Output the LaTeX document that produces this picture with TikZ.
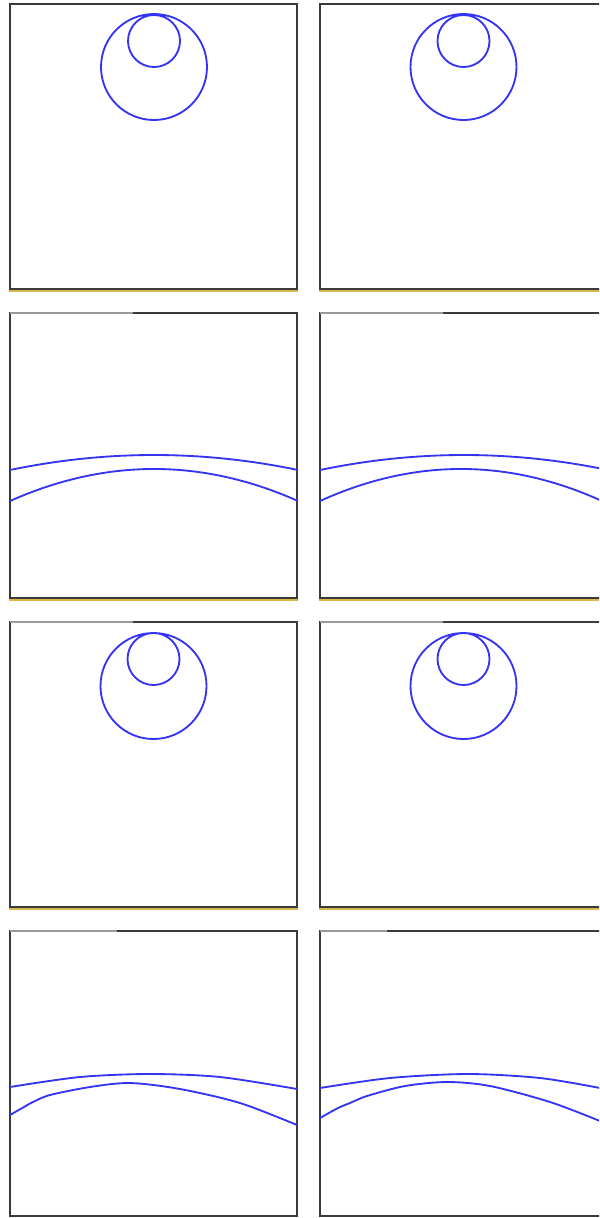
\documentclass[tikz,border=0pt]{standalone}
\usepackage{xcolor}
\usepackage{tikz}
\definecolor{cFrame}{HTML}{3A3A3A}
\definecolor{cFade}{HTML}{9A9A9A}
\definecolor{cFloor}{HTML}{D9B84A}
\definecolor{cRing}{HTML}{3434F2}
\tikzset{
  pane/.style  ={draw=cFrame, line width=1.3pt},
  fade/.style  ={draw=cFade, line width=1.3pt},
  pfloor/.style={draw=cFloor, line width=0.7pt},
  ring/.style  ={draw=cRing, line width=1.05pt},
}

\begin{document}
\begin{tikzpicture}[x=0.02cm,y=-0.02cm]
  \path[use as bounding box, clip] (0,0) rectangle (599,1218);
  \fill[white] (0,0) rectangle (599,1218);

  % frames, left column and right column
  \draw[pane] (10,4) rectangle (297,289);     \draw[pane] (610,289) -- (320,289) -- (320,4) -- (610,4);
  \draw[pane] (10,313) rectangle (297,598);   \draw[pane] (610,598) -- (320,598) -- (320,313) -- (610,313);
  \draw[pane] (10,622) rectangle (297,907);   \draw[pane] (610,907) -- (320,907) -- (320,622) -- (610,622);
  \draw[pane] (10,931) rectangle (297,1216);  \draw[pane] (610,1216) -- (320,1216) -- (320,931) -- (610,931);
  \draw[fade] (10,313) -- (133,313);  \draw[fade] (320,313) -- (443,313);
  \draw[fade] (10,622) -- (133,622);  \draw[fade] (320,622) -- (443,622);
  \draw[fade] (10,931) -- (117,931);  \draw[fade] (320,931) -- (387,931);
  \draw[pfloor] (9,291) -- (298,291);  \draw[pfloor] (319,291) -- (610,291);
  \draw[pfloor] (9,600) -- (298,600);  \draw[pfloor] (319,600) -- (610,600);
  \draw[pfloor] (9,909) -- (298,909);  \draw[pfloor] (319,909) -- (610,909);

  % rows 1 and 3: two rings touching at the top
  \draw[ring] (154,67) circle (53) (154,41) circle (26);
  \draw[ring] (463.5,67) circle (53) (463.5,41) circle (26);
  \draw[ring] (153.5,686) circle (53) (153.5,659) circle (26);
  \draw[ring] (463.5,686) circle (53) (463.5,659) circle (26);

  % rows 2 and 4: two bands
  \draw[ring] (10,470) .. controls (106,450) and (202,450) .. (298,470);
  \draw[ring] (10,501) .. controls (106,458.3) and (202,458.3) .. (298,501);
  \draw[ring] (320,470) .. controls (416,450) and (512,450) .. (608,470);
  \draw[ring] (320,501) .. controls (414,458.3) and (508,458.3) .. (602,501);

  \draw[ring] plot[smooth] coordinates {(10,1087) (80,1077) (150,1074) (220,1077) (297,1089)};
  \draw[ring] plot[smooth] coordinates {(10,1115) (24,1107) (33,1102) (50,1095) (90,1087) (130,1083)
    (180,1089) (240,1103) (297,1125)};
  \draw[ring] plot[smooth] coordinates {(320,1088) (390,1078) (468,1074) (540,1078) (600,1088)};
  \draw[ring] plot[smooth] coordinates {(320,1118) (338,1108) (350,1103) (367,1096) (405,1086) (447,1082)
    (490,1086) (550,1102) (600,1121)};
\end{tikzpicture}
\end{document}
